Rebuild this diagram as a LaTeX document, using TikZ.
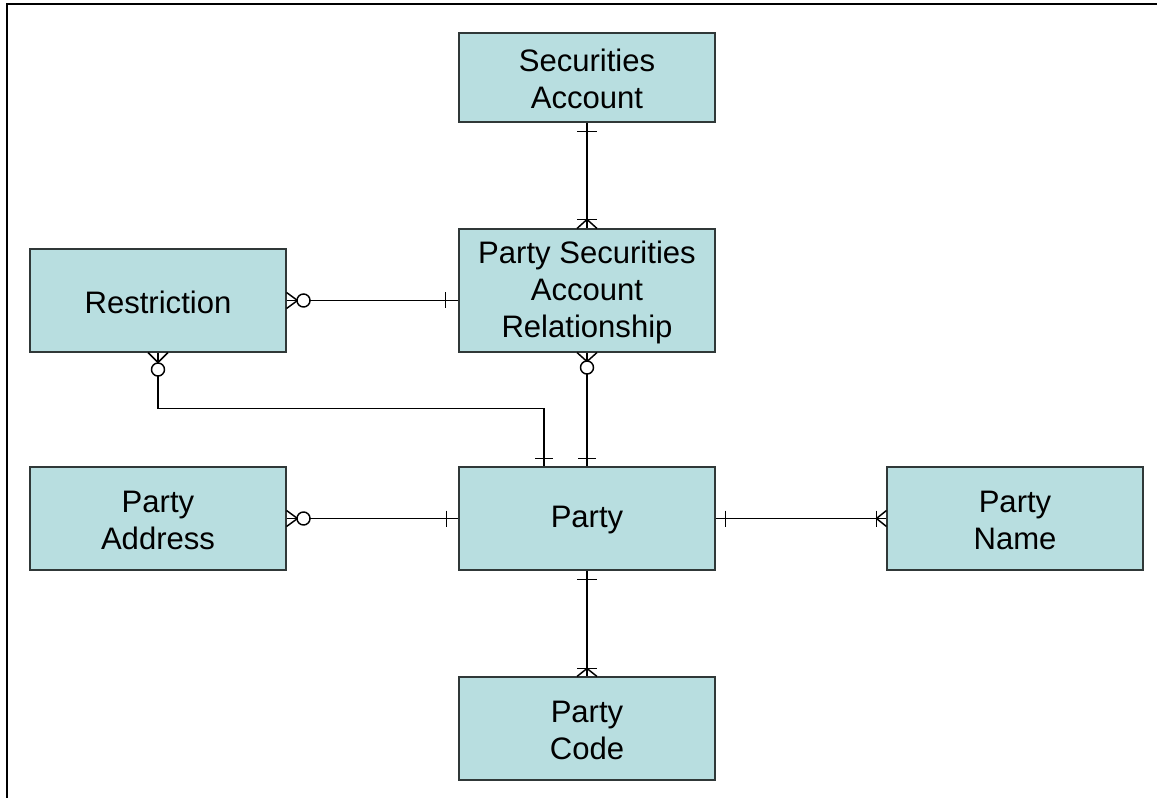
\documentclass[tikz,border=0pt]{standalone}
\usepackage{fontspec}
\setmainfont{Liberation Sans}
\usetikzlibrary{calc}
\definecolor{entfill}{HTML}{B8DEE0}
\definecolor{entdraw}{HTML}{303838}
\tikzset{
  ent/.style={draw=entdraw, line width=0.8pt, fill=entfill, rectangle, inner sep=0pt,
    minimum width=192pt},
  entlabel/.style={align=center, inner sep=0pt, yshift=-1.2pt,
    font=\fontsize{23.3pt}{27.75pt}\selectfont},
  conn/.style={draw=black, line width=1.1pt},
  tick/.style={draw=black, line width=1.1pt},
  ring/.style={draw=black, line width=1.1pt, fill=white},
}
\begin{document}
\begin{tikzpicture}[x=0.75pt,y=-0.75pt]
\useasboundingbox (0,0) rectangle (1157,798);
% frame
\draw[line width=1.6pt] (7,798) coordinate (fb) -- (7,4) coordinate (fc) -- (1157,4) coordinate (fr);

% entities
\node[ent, minimum height=66.75pt, label={[entlabel]center:Securities\\Account}] (SA) at (587,77.5) {};
\node[ent, minimum height=92.25pt, label={[entlabel]center:Party Securities\\Account\\Relationship}] (PSAR) at (587,290.5) {};
\node[ent, minimum height=77.25pt, label={[entlabel]center:Restriction}] (R) at (158,300.5) {};
\node[ent, minimum height=77.25pt, label={[entlabel]center:Party}] (P) at (587,518.5) {};
\node[ent, minimum height=77.25pt, label={[entlabel]center:Party\\Address}] (PA) at (158,518.5) {};
\node[ent, minimum height=77.25pt, label={[entlabel]center:Party\\Name}] (PN) at (1015,518.5) {};
\node[ent, minimum height=77.25pt, label={[entlabel]center:Party\\Code}] (PC) at (587,728.5) {};

% 1. Securities Account -- PSAR
\draw[conn] (SA.south) -- (PSAR.north);
\draw[tick] ($(SA.south)+(-10,9)$) -- ++(20,0);
\draw[tick] ($(PSAR.north)+(-10,-9)$) -- ++(20,0);
\draw[tick] ($(PSAR.north)+(-10,0)$) -- ($(PSAR.north)+(0,-9)$) -- ($(PSAR.north)+(10,0)$);

% 2. Restriction -- PSAR
\coordinate (rw) at (PSAR.west |- R.east);
\draw[conn] ($(R.east)+(23,0)$) -- (rw);
\draw[tick] ($(R.east)+(0,-8)$) -- ($(R.east)+(11,0)$) -- ($(R.east)+(0,8)$);
\draw[tick] (R.east) -- ($(R.east)+(11,0)$);
\draw[ring] ($(R.east)+(17,0)$) circle[radius=6.5];
\draw[tick] ($(rw)+(-13,-8)$) -- ++(0,16);

% 3. Restriction -- Party
\coordinate (rp) at ($(P.north)+(-43,0)$);
\draw[conn] ($(R.south)+(0,23)$) |- ($(rp)+(0,-58)$) -- (rp);
\draw[tick] ($(R.south)+(-10,0)$) -- ($(R.south)+(0,10)$) -- ($(R.south)+(10,0)$);
\draw[tick] (R.south) -- ($(R.south)+(0,10)$);
\draw[ring] ($(R.south)+(0,17)$) circle[radius=6.5];
\draw[tick] ($(rp)+(-9,-8)$) -- ++(18,0);

% 4. PSAR -- Party
\draw[conn] ($(PSAR.south)+(0,21)$) -- (P.north);
\draw[tick] ($(PSAR.south)+(-10,0)$) -- ($(PSAR.south)+(0,9)$) -- ($(PSAR.south)+(10,0)$);
\draw[tick] (PSAR.south) -- ($(PSAR.south)+(0,9)$);
\draw[ring] ($(PSAR.south)+(0,15)$) circle[radius=6.5];
\draw[tick] ($(P.north)+(-9,-8)$) -- ++(18,0);

% 5. Party Address -- Party
\draw[conn] ($(PA.east)+(23,0)$) -- (P.west);
\draw[tick] ($(PA.east)+(0,-8)$) -- ($(PA.east)+(11,0)$) -- ($(PA.east)+(0,8)$);
\draw[tick] (PA.east) -- ($(PA.east)+(11,0)$);
\draw[ring] ($(PA.east)+(17,0)$) circle[radius=6.5];
\draw[tick] ($(P.west)+(-12,-8)$) -- ++(0,16);

% 6. Party -- Party Name
\draw[conn] (P.east) -- (PN.west);
\draw[tick] ($(P.east)+(10,-8)$) -- ++(0,16);
\draw[tick] ($(PN.west)+(-10,-8)$) -- ++(0,16);
\draw[tick] ($(PN.west)+(0,-8)$) -- ($(PN.west)+(-10,0)$) -- ($(PN.west)+(0,8)$);

% 7. Party -- Party Code
\draw[conn] (P.south) -- (PC.north);
\draw[tick] ($(P.south)+(-10,9)$) -- ++(20,0);
\draw[tick] ($(PC.north)+(-10,-8)$) -- ++(20,0);
\draw[tick] ($(PC.north)+(-10,0)$) -- ($(PC.north)+(0,-8)$) -- ($(PC.north)+(10,0)$);
\end{tikzpicture}
\end{document}
